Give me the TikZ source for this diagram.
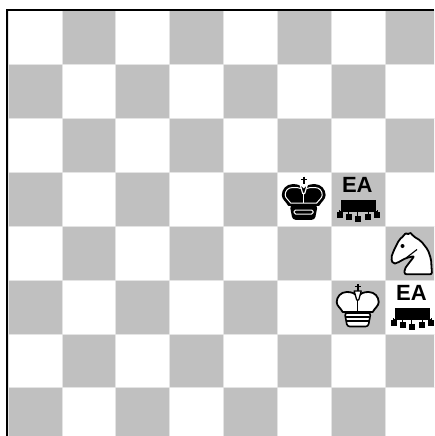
\documentclass[tikz,border=0pt]{standalone}
\usepackage{fontspec}
\setmainfont{Liberation Sans}
\usepackage{xcolor}
\definecolor{boardgray}{RGB}{192,192,192}
\definecolor{boardline}{RGB}{228,228,228}

\begin{document}
\begin{tikzpicture}[
    x=1pt,y=-1pt,
    marktext/.style={inner sep=0pt,font=\bfseries\fontsize{22}{22}\selectfont},
    darksquare/.style={fill=boardgray,draw=boardline,line width=0.8pt},
    lightsquare/.style={fill=white,draw=boardline,line width=0.8pt},
    pics/eamark/.style={code={
      \fill (-16.7,0.7) rectangle (17.7,11.5);
      \draw[line width=1.4pt] (-18.5,12.5) -- (19.3,12.5);
      \foreach \dx/\dy in {-18.5/15.5,-9.5/18,-0.5/20,10.2/18,19.3/15.5} {
        \draw[line width=1.4pt] (\dx,11) -- (\dx,\dy);
        \fill (\dx-3,\dy-3) rectangle (\dx+3,\dy+3);
      }
    }},
    pics/blackking/.style={code={
      \draw[line width=1.8pt] (0,4.5) -- (0,12) (-2.8,7.5) -- (2.8,7.5);
      \draw[line width=1.8pt,fill=black,line join=round]
        (0,18) .. controls (-3,14) and (-6,13) .. (-11,13) .. controls (-17,13) and (-21,18) .. (-21,23)
        .. controls (-21,27) and (-17,29) .. (-15,33) -- (15,33) .. controls (17,29) and (21,27) .. (21,23)
        .. controls (21,18) and (17,13) .. (11,13) .. controls (6,13) and (3,14) .. (0,18) -- cycle;
      \draw[white,line width=1pt]
        (-3,16.5) .. controls (-5,15.5) and (-7,15.5) .. (-11,15.5) .. controls (-16,15.5) and (-18.5,19) .. (-18.5,23)
        .. controls (-18.5,26) and (-15,28) .. (-13,31) -- (13,31) .. controls (15,28) and (18.5,26) .. (18.5,23)
        .. controls (18.5,19) and (16,15.5) .. (11,15.5) .. controls (7,15.5) and (5,15.5) .. (3,16.5);
      \draw[white,line width=1.2pt,line join=round] (-3.5,13) -- (3.5,13) -- (1,21.5) -- (-1,21.5) -- cycle;
      \draw[white,line width=1.2pt] (0,21) -- (0,31);
      \draw[line width=1.6pt,fill=black,rounded corners=2.5pt] (-13,34) -- (13,34) -- (10.5,47) -- (-10.5,47) -- cycle;
      \draw[white,line width=1pt,rounded corners=1.5pt] (-9.5,38) rectangle (9.5,42);
    }},
    pics/whiteking/.style={code={
      \draw[line width=1.8pt] (0,4) -- (0,11) (-2.8,6.5) -- (2.8,6.5);
      \draw[line width=1.8pt,fill=white,line join=round]
        (0,17) .. controls (-3,13) and (-6,12) .. (-11,12) .. controls (-17,12) and (-21,17) .. (-21,22)
        .. controls (-21,26) and (-17,28) .. (-15,32) -- (15,32) .. controls (17,28) and (21,26) .. (21,22)
        .. controls (21,17) and (17,12) .. (11,12) .. controls (6,12) and (3,13) .. (0,17) -- cycle;
      \draw[line width=1.3pt,fill=white,line join=round] (-3.5,11) -- (3.5,11) -- (1,20) -- (-1,20) -- cycle;
      \draw[line width=1.3pt] (0,20) -- (0,31);
      \draw[line width=1.6pt,fill=white,rounded corners=2.5pt] (-13,33) -- (13,33) -- (10.5,46.5) -- (-10.5,46.5) -- cycle;
      \draw[line width=1.1pt] (-11.5,37) -- (11.5,37) (-11,41) -- (11,41);
    }},
    pics/whiteknight/.style={code={
      \draw[line width=1.8pt,fill=white,line join=round,rounded corners=2pt]
        (46,48.3) -- (18.5,48.3) -- (18.5,43) -- (23,37) -- (28.5,30) -- (20,32) -- (11,37) -- (7,38) -- (5,32)
        -- (8,24) -- (13,14) -- (18,9.5) -- (20,6.5) -- (22.5,9) -- (24,6) -- (27,10) -- (35,15)
        -- (42,24) -- (45,33) -- cycle;
      \draw[line width=1.1pt] (20,32) -- (31,23.5);
      \fill (16.5,20) circle (2);
    }}
  ]
    \useasboundingbox (0,0) rectangle (434,436);
    \fill[white] (0,0) rectangle (434,436);

    % board squares
    \begin{scope}
    \clip (0,0) rectangle (434,436);
    \foreach \row in {0,...,7} {
      \foreach \col in {0,...,7} {
        \pgfmathtruncatemacro{\squarekind}{mod(\row+\col,2)}
        \ifnum\squarekind=0
          \path[lightsquare] ({8+53.9*\col},{10.5+53.9*\row}) rectangle ++(53.9,53.9);
        \else
          \path[darksquare] ({8+53.9*\col},{10.5+53.9*\row}) rectangle ++(53.9,53.9);
        \fi
      }
    }
    \end{scope}
    \draw[line width=2pt] (7,436) -- (7,10) -- (434,10);

    % pieces
    \pic at (303.7,172) {blackking};
    \pic at (357.7,280) {whiteking};
    \pic at (386,226) {whiteknight};

    \node[marktext] (markone) at (357.3,185.3) {EA};
    \pic at (358,199) {eamark};
    \node[marktext] (marktwo) at (411.5,293.3) {EA};
    \pic at (412,307) {eamark};
\end{tikzpicture}
\end{document}
